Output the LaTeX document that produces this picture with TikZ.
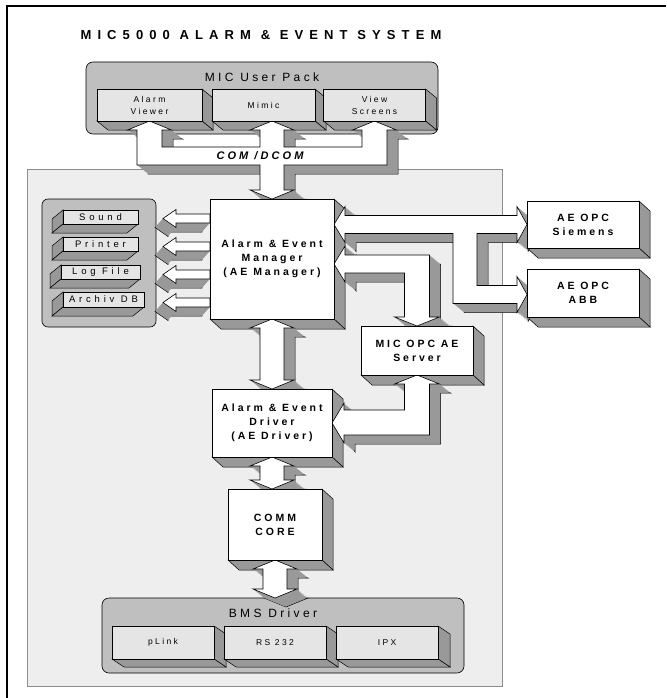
\documentclass[tikz,border=0pt]{standalone}
\usepackage{fontspec}
\setmainfont{Liberation Sans}
\newfontfamily\spfont[LetterSpace=28]{Liberation Sans}
\newfontfamily\wdfont[LetterSpace=40]{Liberation Sans}
\newfontfamily\ttlfont[LetterSpace=47]{Liberation Sans}
\usepackage{tikz}
\usetikzlibrary{positioning,calc}

\definecolor{sidegray}{gray}{0.6}
\definecolor{packgray}{gray}{0.75}
\definecolor{itemgray}{gray}{0.9}
\definecolor{panelgray}{gray}{0.935}

\pgfdeclarelayer{back}
\pgfdeclarelayer{mid}
\pgfsetlayers{back,mid,main}

\tikzstyle{frontface}=[draw=black, fill=white, line width=0.6pt]
\tikzstyle{sideface}=[draw=black, fill=sidegray, line width=0.5pt]
\tikzstyle{sidefill}=[fill=sidegray]
\tikzstyle{blockbox}=[draw=black, fill=white, line width=0.6pt, inner sep=0pt, outer sep=0pt, align=center, font=\spfont\bfseries\fontsize{10.5}{14}\selectfont]
\tikzstyle{itembox}=[blockbox, fill=itemgray, font=\spfont\fontsize{8.5}{12}\selectfont]
\tikzstyle{outbox}=[blockbox, fill=itemgray, font=\wdfont\fontsize{9.5}{12}\selectfont]
\tikzstyle{packbox}=[draw=black, fill=packgray, line width=0.6pt, rounded corners=7pt, inner sep=0pt, outer sep=0pt]
\tikzstyle{packtitle}=[font=\spfont\fontsize{12}{14}\selectfont]

% side and bottom face of a box: node, dx, dy, east/west
\newcommand{\boxsides}[4]{%
  \begin{pgfonlayer}{back}
  \filldraw[sideface] (#1.north #4) -- ++(#2,#3) -- ($(#1.south #4)+(#2,#3)$) -- (#1.south #4) -- cycle;
  \filldraw[sideface] (#1.south west) -- ($(#1.south west)+(#2,#3)$) -- ($(#1.south east)+(#2,#3)$) -- (#1.south east) -- cycle;
  \end{pgfonlayer}}

% extruded fat arrow: dx, dy, outline
\newcommand{\solid}[3]{%
  \begin{pgfonlayer}{mid}
  \filldraw[sideface, transform canvas={shift={({(#1)*1pt},{-(#2)*1pt})}}] #3;
  \foreach \t in {0.95,0.9,...,0.04}
    \fill[sidefill, transform canvas={shift={({\t*(#1)*1pt},{-\t*(#2)*1pt})}}] #3;
  \filldraw[frontface] #3;
  \end{pgfonlayer}}

% vertical double arrow between two boxes
\newcommand{\vlink}[2]{%
  \solid{11}{9}{(#1.south) -- ++(22,9) -- ++(-10,0) -- ($(#1.south |- #2.north)+(12,-9)$) -- ++(10,0) -- (#1.south |- #2.north) -- ++(-22,-9) -- ++(10,0) -- ($(#1.south)+(-12,9)$) -- ++(-10,0) -- cycle}}

\begin{document}
\begin{tikzpicture}[x=1pt,y=-1pt]
\useasboundingbox (0,0) rectangle (666,698);
\begin{pgfonlayer}{back}
  \draw[line width=1.8pt] (7,698) -- (7,6) -- (666,6);
  \filldraw[draw=black!45, fill=panelgray, line width=0.5pt] (27,169) rectangle (502,686);
  \node[packbox, minimum width=352pt, minimum height=72pt] (upack) at (262,98) {};
  \node[packbox, minimum width=114pt, minimum height=128pt, rounded corners=6pt] (outs) at (99,263) {};
  \node[packbox, minimum width=362pt, minimum height=75pt] (bms) at (283,635.5) {};
\end{pgfonlayer}

\node[font=\ttlfont\bfseries\fontsize{13}{15}\selectfont] (title) at (261,35) {MIC5000 ALARM \& EVENT SYSTEM};

% user pack
\node[packtitle] (uptitle) at (262,77) {MIC User Pack};
\node[itembox, minimum width=105pt, minimum height=32pt] (alv) at (149.5,105) {Alarm\\Viewer};
\node[itembox, minimum width=103pt, minimum height=32pt] (mim) at (263.5,105) {Mimic};
\node[itembox, minimum width=102pt, minimum height=32pt] (vsc) at (374.5,105) {View\\Screens};
\foreach \n in {alv,mim,vsc} \boxsides{\n}{11}{9}{east};

% outputs
\node[outbox, minimum width=75pt, minimum height=14pt] (snd) at (100.5,217) {Sound};
\node[outbox, minimum width=75pt, minimum height=14pt] (prn) at (100.5,244) {Printer};
\node[outbox, minimum width=79pt, minimum height=14pt] (logf) at (100.5,272) {Log File};
\node[outbox, minimum width=81pt, minimum height=15pt] (adb) at (103.5,299.5) {Archiv DB};
\foreach \n in {snd,prn,logf,adb} \boxsides{\n}{-11}{9}{west};

% bms driver
\node[packtitle] (bmstitle) at (273,613) {BMS Driver};
\node[itembox, minimum width=102pt, minimum height=33pt] (plk) at (163,642.5) {pLink};
\node[itembox, minimum width=102pt, minimum height=33pt] (rs) at (275,642.5) {RS 232};
\node[itembox, minimum width=102pt, minimum height=33pt] (ipx) at (387,642.5) {IPX};
\foreach \n in {plk,rs,ipx} \boxsides{\n}{12}{8}{east};

% main blocks
\node[blockbox, minimum width=124pt, minimum height=120pt] (mgr) at (272,259) {Alarm \& Event\\Manager\\(AE Manager)};
\node[blockbox, minimum width=120pt, minimum height=68pt] (drv) at (272,423) {Alarm \& Event\\Driver\\(AE Driver)};
\node[blockbox, minimum width=94pt, minimum height=71pt] (core) at (275,524.5) {COMM\\CORE};
\node[blockbox, minimum width=112pt, minimum height=49pt] (srv) at (417,350.5) {MIC OPC AE\\Server};
\node[blockbox, minimum width=112pt, minimum height=47pt] (sie) at (583,224.5) {AE OPC\\Siemens};
\node[blockbox, minimum width=112pt, minimum height=48pt] (abb) at (583,293) {AE OPC\\ABB};
\foreach \n in {mgr,drv,core,srv,sie,abb} \boxsides{\n}{11}{10}{east};

% COM/DCOM bus
\solid{11}{9}{(alv.south) -- ++(22,9) -- ++(-9.5,0) -- ++(0,17) -- ++(98,0) -- ++(0,-17) -- ++(-10,0) -- (mgr.north |- mim.south) -- ++(22,9) -- ++(-10,0) -- ++(0,17) -- ++(78,0) -- ++(0,-17) -- ++(-9.5,0) -- (vsc.south) -- ++(22,9) -- ++(-9.5,0) -- ++(0,35) -- ++(-103,0) -- ++(0,25) -- ++(10,0) -- (mgr.north) -- ++(-22,-9) -- ++(10,0) -- ++(0,-25) -- ++(-123,0) -- ++(0,-35) -- ++(-9.5,0) -- cycle}
\node[font=\spfont\bfseries\itshape\fontsize{11}{13}\selectfont] (com) at (260,156) {COM /DCOM};

\vlink{mgr}{drv}
\vlink{drv}{core}
\vlink{core}{bms}

% to the OPC servers
\solid{11}{9}{(mgr.east |- sie.west) -- ++(11,-18) -- ++(0,9) -- ++(172,0) -- ++(0,-9) -- ++(10,18) -- ++(-10,18) -- ++(0,-9) -- ++(-40,0) -- ++(0,52) -- ++(40,0) -- ++(0,-9) -- ++(10,18) -- ++(-10,18) -- ++(0,-9) -- ++(-64,0) -- ++(0,-70) -- ++(-108,0) -- ++(0,9) -- cycle}
\solid{11}{9}{($(mgr.east)+(0,5)$) -- ++(11,-18) -- ++(0,9) -- ++(84.5,0) -- ++(0,62) -- ++(10,0) -- (srv.north) -- ++(-22.5,-9) -- ++(10,0) -- ++(0,-44) -- ++(-59.5,0) -- ++(0,9) -- cycle}
\solid{11}{9}{(drv.east) -- ++(12,-20) -- ++(0,7) -- ++(60.5,0) -- ++(0,-26) -- ++(-10,0) -- (srv.south) -- ++(22.5,9) -- ++(-10,0) -- ++(0,51) -- ++(-85.5,0) -- ++(0,8) -- cycle}

% to the outputs
\foreach \dy in {15,43,71,99}
  \solid{-8}{9}{($(mgr.north west)+(0,\dy)$) -- ++(-34,0) -- ++(0,-4.5) -- ++(-13,9) -- ++(13,9) -- ++(0,-4.5) -- ++(34,0) -- cycle};
\end{tikzpicture}
\end{document}
